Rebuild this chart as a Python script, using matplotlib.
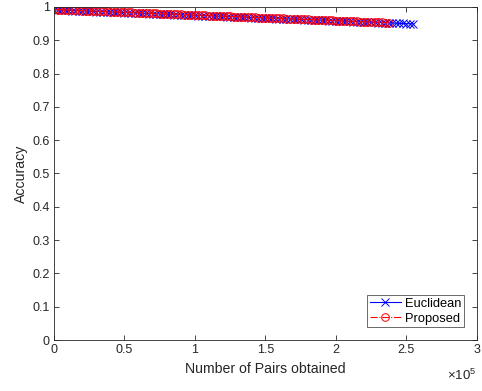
import matplotlib
matplotlib.use('Agg')
import matplotlib.pyplot as plt
from matplotlib.ticker import FuncFormatter

plt.rcParams['font.family'] = ['Liberation Sans', 'DejaVu Sans']
plt.rcParams['mathtext.default'] = 'regular'

# Euclidean matching
euc_pairs = [0, 2500, 5000, 7500, 10000, 12500, 15000, 17500, 20000, 22500,
             25000, 27500, 30000, 32500, 35000, 37500, 40000, 42500, 45000, 47500,
             50000, 52500, 55000, 57500, 60000, 62500, 65000, 67500, 70000, 72500,
             75000, 77500, 80000, 82500, 85000, 87500, 90000, 92500, 95000, 97500,
             100000, 102500, 105000, 107500, 110000, 112500, 115000, 117500, 120000, 122500,
             125000, 127500, 130000, 132500, 135000, 137500, 140000, 142500, 145000, 147500,
             150000, 152500, 155000, 157500, 160000, 162500, 165000, 167500, 170000, 172500,
             175000, 177500, 180000, 182500, 185000, 187500, 190000, 192500, 195000, 197500,
             200000, 202500, 205000, 207500, 210000, 212500, 215000, 217500, 220000, 222500,
             225000, 227500, 230000, 232500, 235000, 237500, 240000, 242500, 245000, 247500,
             250000, 252500, 255000]
euc_acc = [0.9910, 0.9906, 0.9902, 0.9898, 0.9894, 0.9889, 0.9885, 0.9881, 0.9877, 0.9873,
           0.9869, 0.9865, 0.9861, 0.9856, 0.9852, 0.9848, 0.9844, 0.9840, 0.9836, 0.9832,
           0.9828, 0.9823, 0.9819, 0.9815, 0.9811, 0.9807, 0.9803, 0.9799, 0.9795, 0.9791,
           0.9786, 0.9782, 0.9778, 0.9774, 0.9770, 0.9766, 0.9762, 0.9758, 0.9753, 0.9749,
           0.9745, 0.9741, 0.9737, 0.9733, 0.9729, 0.9725, 0.9720, 0.9716, 0.9712, 0.9708,
           0.9704, 0.9700, 0.9696, 0.9692, 0.9688, 0.9683, 0.9679, 0.9675, 0.9671, 0.9667,
           0.9663, 0.9659, 0.9655, 0.9650, 0.9646, 0.9642, 0.9638, 0.9634, 0.9630, 0.9626,
           0.9622, 0.9617, 0.9613, 0.9609, 0.9605, 0.9601, 0.9597, 0.9593, 0.9589, 0.9585,
           0.9580, 0.9576, 0.9572, 0.9568, 0.9564, 0.9560, 0.9556, 0.9552, 0.9547, 0.9543,
           0.9539, 0.9535, 0.9531, 0.9527, 0.9523, 0.9519, 0.9514, 0.9510, 0.9506, 0.9502,
           0.9498, 0.9494, 0.9490]

# Proposed matching
prop_pairs = [0, 2500, 5000, 7500, 10000, 12500, 15000, 17500, 20000, 22500,
              25000, 27500, 30000, 32500, 35000, 37500, 40000, 42500, 45000, 47500,
              50000, 52500, 55000, 57500, 60000, 62500, 65000, 67500, 70000, 72500,
              75000, 77500, 80000, 82500, 85000, 87500, 90000, 92500, 95000, 97500,
              100000, 102500, 105000, 107500, 110000, 112500, 115000, 117500, 120000, 122500,
              125000, 127500, 130000, 132500, 135000, 137500, 140000, 142500, 145000, 147500,
              150000, 152500, 155000, 157500, 160000, 162500, 165000, 167500, 170000, 172500,
              175000, 177500, 180000, 182500, 185000, 187500, 190000, 192500, 195000, 197500,
              200000, 202500, 205000, 207500, 210000, 212500, 215000, 217500, 220000, 222500,
              225000, 227500, 230000, 232500, 235000, 237500]
prop_acc = [0.9925, 0.9921, 0.9917, 0.9912, 0.9908, 0.9904, 0.9900, 0.9896, 0.9891, 0.9887,
            0.9883, 0.9879, 0.9875, 0.9870, 0.9866, 0.9862, 0.9858, 0.9854, 0.9849, 0.9845,
            0.9841, 0.9837, 0.9833, 0.9828, 0.9824, 0.9820, 0.9816, 0.9812, 0.9807, 0.9803,
            0.9799, 0.9795, 0.9791, 0.9786, 0.9782, 0.9778, 0.9774, 0.9770, 0.9765, 0.9761,
            0.9757, 0.9753, 0.9749, 0.9744, 0.9740, 0.9736, 0.9732, 0.9728, 0.9723, 0.9719,
            0.9715, 0.9711, 0.9707, 0.9702, 0.9698, 0.9694, 0.9690, 0.9686, 0.9681, 0.9677,
            0.9673, 0.9669, 0.9665, 0.9660, 0.9656, 0.9652, 0.9648, 0.9644, 0.9639, 0.9635,
            0.9631, 0.9627, 0.9623, 0.9618, 0.9614, 0.9610, 0.9606, 0.9602, 0.9597, 0.9593,
            0.9589, 0.9585, 0.9581, 0.9576, 0.9572, 0.9568, 0.9564, 0.9560, 0.9555, 0.9551,
            0.9547, 0.9543, 0.9539, 0.9534, 0.9530, 0.9526]

xticks = [0, 50000, 100000, 150000, 200000, 250000, 300000]
yticks = [0, 0.1, 0.2, 0.3, 0.4, 0.5, 0.6, 0.7, 0.8, 0.9, 1.0]

dark = '#262626'
fig = plt.figure(figsize=(4.82, 3.91), dpi=100)
ax = fig.add_axes([0.112, 0.1304, 0.877, 0.852])

ax.plot(euc_pairs, euc_acc, '-x', color='#0000ff', lw=0.8, ms=5.5, mew=0.7, label='Euclidean')
ax.plot(prop_pairs, prop_acc, '-.o', color='#ff0000', lw=0.8, ms=5.5, mew=0.7,
        mfc='none', label='Proposed')

ax.set_xlim(0, 300000)
ax.set_ylim(0, 1)
ax.set_xticks(xticks)
ax.set_yticks(yticks)
ax.xaxis.set_major_formatter(FuncFormatter(lambda v, p: '%g' % (v / 1e5)))
ax.yaxis.set_major_formatter(FuncFormatter(lambda v, p: '%g' % v))
ax.tick_params(direction='in', top=True, right=True, length=3.5, width=0.6,
               labelsize=9, colors=dark, pad=3)
for s in ax.spines.values():
    s.set_color(dark)
    s.set_linewidth(0.6)

ax.set_xlabel('Number of Pairs obtained', fontsize=10.2, color=dark, labelpad=4)
ax.set_ylabel('Accuracy', fontsize=10.2, color=dark, labelpad=3)
ax.text(1.0, -0.105, r'$\times10^{5}$', transform=ax.transAxes, ha='right', va='center',
        fontsize=9.5, color=dark)

leg = ax.legend(loc='lower right', fontsize=9.3, frameon=True, fancybox=False,
                borderaxespad=1.0, handlelength=2.4, borderpad=0.2, labelspacing=0.2,
                handletextpad=0.3)
leg.get_frame().set_edgecolor(dark)
leg.get_frame().set_linewidth(0.6)

fig.savefig('out.png', dpi=100)
